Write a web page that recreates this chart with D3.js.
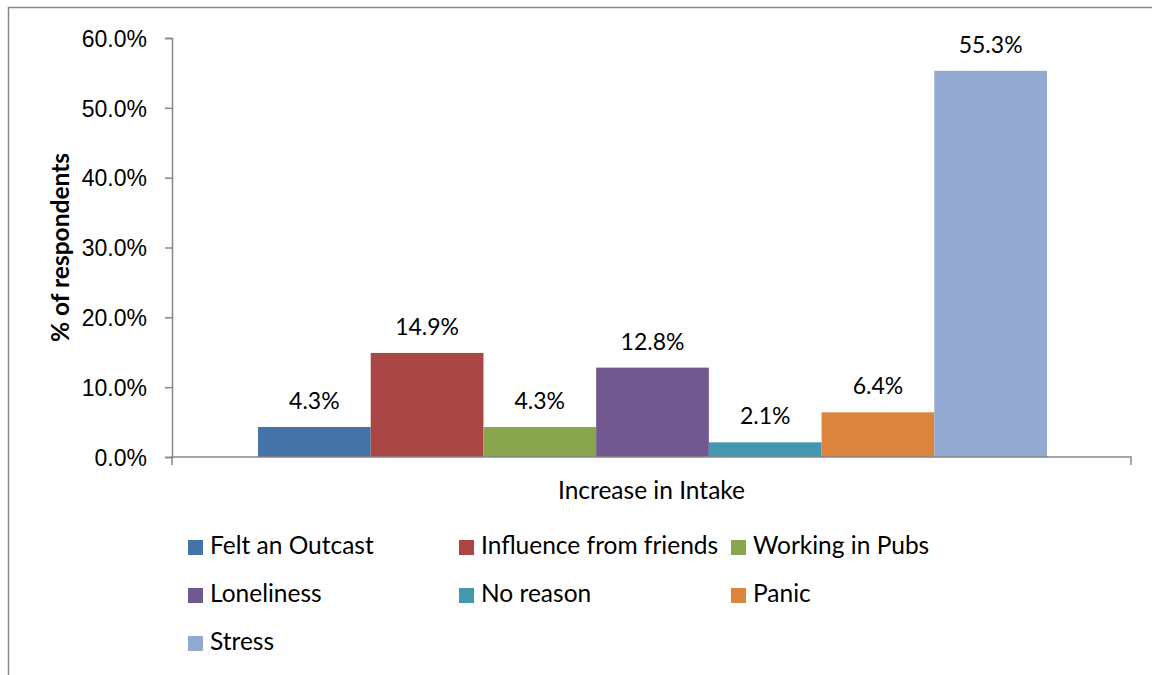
<!DOCTYPE html>
<html>
<head>
<meta charset="utf-8">
<script src="https://cdn.jsdelivr.net/npm/d3@7"></script>
<style>
  html, body { margin: 0; padding: 0; background: #fff; }
  svg { display: block; font-family: "Lato", "Liberation Sans", sans-serif; }
</style>
</head>
<body>
<svg id="chart" width="1152" height="675"></svg>
<script>
// Reasons given for an increase in intake (% of respondents)
const categories = ["Increase in Intake"];
const seriesNames = ["Felt an Outcast", "Influence from friends", "Working in Pubs",
                     "Loneliness", "No reason", "Panic", "Stress"];
const seriesValues = [4.3, 14.9, 4.3, 12.8, 2.1, 6.4, 55.3];
const seriesColors = ["#4572A7", "#AA4643", "#89A54E", "#71588F", "#4198AF", "#DB843D", "#93A9CF"];
const yTicks = [0, 10, 20, 30, 40, 50, 60];

const svg = d3.select("#chart");
const axisColor = "#868686";
const numSize = "23px";   // numbers: tick and data labels
const wordSize = "24.5px"; // words: titles and legend

// chart frame
svg.append("rect")
  .attr("x", 8.5).attr("y", 7.5)
  .attr("width", 1200).attr("height", 700)
  .attr("fill", "none").attr("stroke", axisColor).attr("stroke-width", 1.5);

const plot = { left: 172, right: 1131, top: 38, bottom: 457 };

const y = d3.scaleLinear().domain([0, 60]).range([plot.bottom, plot.top]);
const x0 = d3.scaleBand().domain(categories).range([plot.left, plot.right]).paddingInner(0).paddingOuter(0);
const x1 = d3.scaleBand().domain(seriesNames)
  .range([x0(categories[0]) + 86, x0(categories[0]) + x0.bandwidth() - 84])
  .padding(0);

// y axis
const yAxis = d3.axisLeft(y).tickValues(yTicks).tickSize(7).tickPadding(18)
  .tickFormat(d => d.toFixed(1) + "%");
const gy = svg.append("g").attr("transform", `translate(${plot.left},0)`).call(yAxis);
gy.select(".domain").attr("stroke", axisColor).attr("stroke-width", 1.5);
gy.selectAll(".tick line").attr("stroke", axisColor).attr("stroke-width", 1.5);
gy.selectAll(".tick text").attr("fill", "#000").style("font-size", numSize)
  .attr("dy", "0.36em");

// bars
svg.append("g").selectAll("rect")
  .data(seriesValues)
  .join("rect")
  .attr("x", (d, i) => x1(seriesNames[i]))
  .attr("y", d => y(d))
  .attr("width", x1.bandwidth())
  .attr("height", d => y(0) - y(d))
  .attr("fill", (d, i) => seriesColors[i]);

// data labels
svg.append("g").selectAll("text")
  .data(seriesValues)
  .join("text")
  .attr("x", (d, i) => x1(seriesNames[i]) + x1.bandwidth() / 2)
  .attr("y", d => y(d) - 18)
  .attr("text-anchor", "middle")
  .style("font-size", numSize)
  .text(d => d.toFixed(1) + "%");

// x axis
const xAxis = d3.axisBottom(x0).tickSize(0).tickFormat("");
const gx = svg.append("g").attr("transform", `translate(0,${plot.bottom})`).call(xAxis);
gx.select(".domain").attr("stroke", axisColor).attr("stroke-width", 1.5)
  .attr("d", `M${plot.left},8V0H${plot.right}V8`);

// category label
svg.append("text")
  .attr("x", x0(categories[0]) + x0.bandwidth() / 2)
  .attr("y", 499)
  .attr("text-anchor", "middle")
  .style("font-size", wordSize)
  .text(categories[0]);

// y axis title
svg.append("text")
  .attr("transform", `translate(69,${(plot.top + plot.bottom) / 2}) rotate(-90)`)
  .attr("text-anchor", "middle")
  .style("font-size", wordSize)
  .style("font-weight", "bold")
  .text("% of respondents");

// legend: three columns
const legCols = [188, 459, 731];
const legRows = [554, 602, 650];
const leg = svg.append("g").selectAll("g")
  .data(seriesNames)
  .join("g")
  .attr("transform", (d, i) => `translate(${legCols[i % 3]},${legRows[Math.floor(i / 3)]})`);
leg.append("rect")
  .attr("x", 0).attr("y", -14)
  .attr("width", 15).attr("height", 15)
  .attr("fill", (d, i) => seriesColors[i]);
leg.append("text")
  .attr("x", 22).attr("y", 0)
  .style("font-size", wordSize)
  .text(d => d);
</script>
</body>
</html>
